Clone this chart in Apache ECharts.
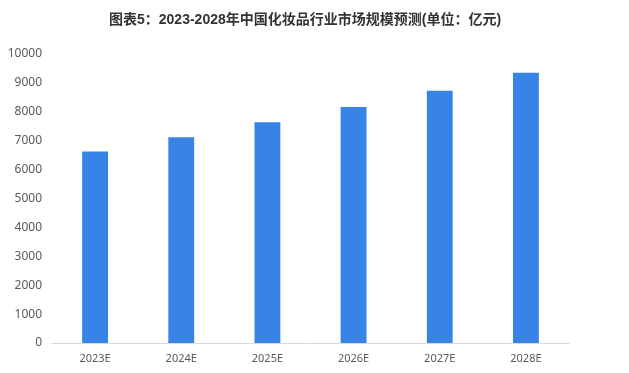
<!DOCTYPE html>
<html><head><meta charset="utf-8">
<script src="https://cdn.jsdelivr.net/npm/echarts@6/dist/echarts.min.js"></script>
<style>html,body{margin:0;padding:0;background:#fff}#c{width:629px;height:373px}</style>
</head><body><div id="c"></div>
<script>
const categories = ['2023E','2024E','2025E','2026E','2027E','2028E'];
const values = [6630, 7120, 7640, 8170, 8730, 9350];
const titleText = '图表5：2023-2028年中国化妆品行业市场规模预测(单位：亿元)';

const chart = echarts.init(document.getElementById('c'));
chart.setOption({
  animation: false,
  title: {
    text: titleText, left: 104, top: 8,
    textStyle: {fontFamily: 'Liberation Sans, Noto Sans CJK SC', fontSize: 14, fontWeight: 'bold', color: '#333'}
  },
  grid: {left: 52, right: 60, top: 54, bottom: 30},
  xAxis: {
    type: 'category', data: categories,
    axisLine: {lineStyle: {color: '#d9d9d9'}},
    axisTick: {show: false},
    axisLabel: {color: '#595959', fontSize: 11, fontFamily: 'Noto Sans', margin: 10}
  },
  yAxis: {
    type: 'value', min: 0, max: 10000, interval: 1000,
    splitLine: {show: false},
    axisLine: {show: false}, axisTick: {show: false},
    axisLabel: {color: '#595959', fontSize: 12, fontFamily: 'Noto Sans', margin: 10,
      formatter: v => String(v)}
  },
  series: [{
    type: 'bar', data: values, barWidth: '30%',
    itemStyle: {color: '#3783E6'}
  }]
});
</script></body></html>
